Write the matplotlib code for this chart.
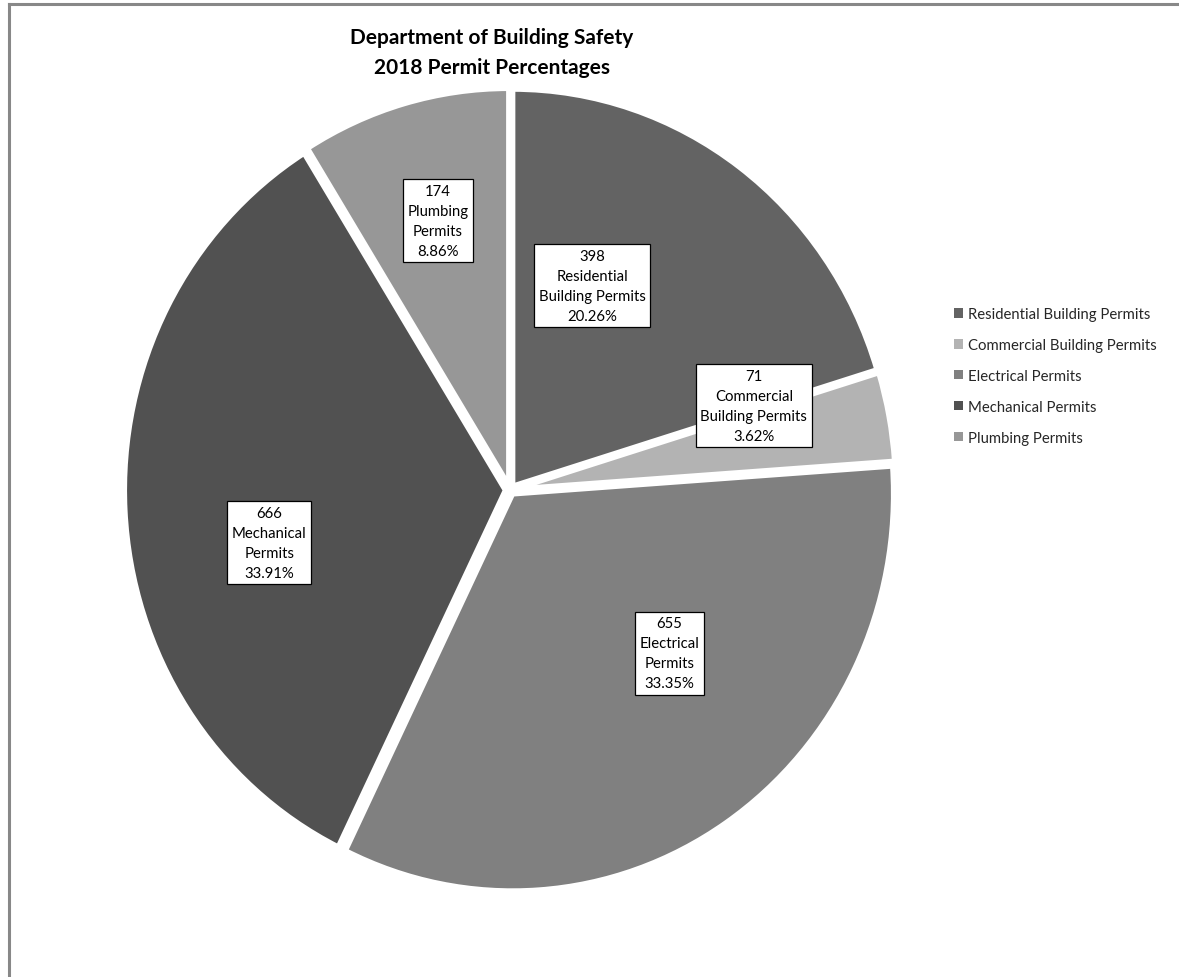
import matplotlib
matplotlib.use("Agg")
import matplotlib.pyplot as plt
from matplotlib.lines import Line2D
from matplotlib.patches import Patch

plt.rcParams["font.family"] = ["Lato", "DejaVu Sans"]

# data
categories = ["Residential Building Permits", "Commercial Building Permits",
              "Electrical Permits", "Mechanical Permits", "Plumbing Permits"]
box_names = ["Residential\nBuilding Permits", "Commercial\nBuilding Permits",
             "Electrical\nPermits", "Mechanical\nPermits", "Plumbing\nPermits"]
counts = [398, 71, 655, 666, 174]

colors = ["#636363", "#b3b3b3", "#808080", "#515151", "#979797"]
# label box centres in axes data units (pie radius = 1), placed as in the original
label_pos = [(0.216, 0.514), (0.64, 0.212), (0.418, -0.411), (-0.632, -0.133), (-0.189, 0.678)]

W, H = 1179, 978
fig = plt.figure(figsize=(W / 100, H / 100), dpi=100)

# pie centre / radii in pixels (the original is slightly taller than wide)
cx, cy = 510, 491
rx, ry = 381, 397
lim = 1.1
ax = fig.add_axes([(cx - lim * rx) / W, (H - cy - lim * ry) / H,
                   2 * lim * rx / W, 2 * lim * ry / H])

wedges, _ = ax.pie(counts, colors=colors, startangle=90, counterclock=False,
                   explode=[0.012] * len(counts),
                   wedgeprops=dict(edgecolor="white", linewidth=3.8))
ax.set_aspect("auto")
ax.set_xlim(-lim, lim)
ax.set_ylim(-lim, lim)

total = sum(counts)
for n, name, (x, y) in zip(counts, box_names, label_pos):
    ax.text(x, y, f"{n}\n{name}\n{100 * n / total:.2f}%", ha="center", va="center",
            fontsize=10.7, linespacing=1.55, color="black",
            bbox=dict(boxstyle="square,pad=0.3", fc="white", ec="black", lw=0.9))

fig.text(492 / W, 1 - 53 / H, "Department of Building Safety\n2018 Permit Percentages",
         ha="center", va="center", fontsize=15, fontweight="bold", linespacing=1.6)

handles = [Patch(facecolor=c, edgecolor="none") for c in colors]
fig.legend(handles, categories, loc="center left", bbox_to_anchor=(954 / W, 1 - 377 / H),
           frameon=False, fontsize=10.7, handlelength=0.6, handleheight=0.6,
           handletextpad=0.35, labelspacing=1.14, borderpad=0, borderaxespad=0,
           labelcolor="#262626")

# chart-area border (cut off at right and bottom in the original)
fig.add_artist(Line2D([9.5 / W, 9.5 / W], [0, 1 - 5 / H], color="#888888", lw=2.2,
                      transform=fig.transFigure))
fig.add_artist(Line2D([9.5 / W, 1], [1 - 5 / H, 1 - 5 / H], color="#888888", lw=2.2,
                      transform=fig.transFigure))

fig.savefig("out.png", dpi=100, facecolor="white")
